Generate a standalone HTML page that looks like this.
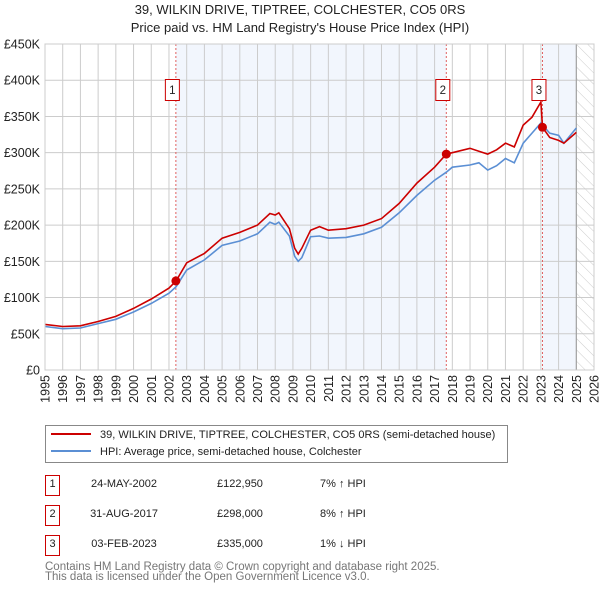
<!DOCTYPE html>
<html><head><meta charset="utf-8"><style>
body{margin:0;background:#fff;font-family:"Liberation Sans","DejaVu Sans",sans-serif;}
svg{display:block}
</style></head><body>
<svg width="600" height="590" viewBox="0 0 600 590" xmlns="http://www.w3.org/2000/svg">
<defs><pattern id="hatch" width="8" height="8" patternUnits="userSpaceOnUse" patternTransform="rotate(-45)"><line x1="0" y1="0" x2="0" y2="8" stroke="#ccc" stroke-width="1"/></pattern></defs>
<text x="300" y="14" text-anchor="middle" font-size="13" fill="#222">39, WILKIN DRIVE, TIPTREE, COLCHESTER, CO5 0RS</text>
<text x="300" y="32" text-anchor="middle" font-size="13" fill="#222">Price paid vs. HM Land Registry's House Price Index (HPI)</text>
<g id="plot"></g>
<g id="legend">
<rect x="45.5" y="425.5" width="462" height="37" fill="#fff" stroke="#888"/>
<line x1="51" y1="434" x2="91" y2="434" stroke="#cc0000" stroke-width="2"/>
<text x="100" y="438" font-size="11" fill="#222">39, WILKIN DRIVE, TIPTREE, COLCHESTER, CO5 0RS (semi-detached house)</text>
<line x1="51" y1="451" x2="91" y2="451" stroke="#5b8fd4" stroke-width="2"/>
<text x="100" y="455" font-size="11" fill="#222">HPI: Average price, semi-detached house, Colchester</text>
</g>
<g font-size="11" fill="#222">
<rect x="45.5" y="475.5" width="14" height="20" fill="#fff" stroke="#cc0000"/><text x="52.5" y="487" text-anchor="middle">1</text>
<text x="124" y="487" text-anchor="middle">24-MAY-2002</text><text x="240" y="487" text-anchor="middle">£122,950</text><text x="320" y="487">7% ↑ HPI</text>
<rect x="45.5" y="505.5" width="14" height="20" fill="#fff" stroke="#cc0000"/><text x="52.5" y="517" text-anchor="middle">2</text>
<text x="124" y="517" text-anchor="middle">31-AUG-2017</text><text x="240" y="517" text-anchor="middle">£298,000</text><text x="320" y="517">8% ↑ HPI</text>
<rect x="45.5" y="535.5" width="14" height="20" fill="#fff" stroke="#cc0000"/><text x="52.5" y="547" text-anchor="middle">3</text>
<text x="124" y="547" text-anchor="middle">03-FEB-2023</text><text x="240" y="547" text-anchor="middle">£335,000</text><text x="320" y="547">1% ↓ HPI</text>
</g>
<text x="45" y="570" font-size="11.5" fill="#777">Contains HM Land Registry data © Crown copyright and database right 2025.</text>
<text x="45" y="580" font-size="11.5" fill="#777">This data is licensed under the Open Government Licence v3.0.</text>
</svg>
<script>
const years=[1995,1996,1997,1998,1999,2000,2001,2002,2002.4,2003,2004,2005,2006,2007,2007.7,2008,2008.2,2008.8,2009.1,2009.3,2009.5,2010,2010.5,2011,2012,2013,2014,2015,2016,2017,2017.66,2018,2019,2019.5,2020,2020.5,2021,2021.5,2022,2022.5,2023,2023.09,2023.5,2024,2024.3,2025];
const hpiValues=[60,57,58,64,70,80,92,106,115,138,152,172,178,188,204,201,204,185,157,150,155,184,185,182,183,188,197,217,241,262,273,280,283,286,276,282,292,286,313,327,341,338,327,324,313,334];
const priceValues=[63,60,61,67,74,85,98,113,123,148,161,182,190,200,216,214,217,195,168,160,168,193,198,193,195,200,209,230,258,280,298,300,306,302,298,304,313,308,338,349,370,335,321,317,313,328];
const saleYears=[2002.39,2017.66,2023.09];
const saleValues=[122.95,298,335];
const saleLabels=["1","2","3"];
const yTicks=[0,50,100,150,200,250,300,350,400,450];
const yTickLabels=["£0","£50K","£100K","£150K","£200K","£250K","£300K","£350K","£400K","£450K"];
const xTicks=[1995,1996,1997,1998,1999,2000,2001,2002,2003,2004,2005,2006,2007,2008,2009,2010,2011,2012,2013,2014,2015,2016,2017,2018,2019,2020,2021,2022,2023,2024,2025,2026];
const dataEnd=2025.0;

const X0=45,X1=594,Y0=370,Y1=44;
const xs=y=>X0+(y-1995)/(2026-1995)*(X1-X0);
const ys=v=>Y0-v/450*(Y0-Y1);
const NS="http://www.w3.org/2000/svg";
const plot=document.getElementById('plot');
function mk(tag,attrs,parent){const e=document.createElementNS(NS,tag);for(const k in attrs)e.setAttribute(k,attrs[k]);(parent||plot).appendChild(e);return e;}
let r=mk('rect',{x:xs(saleYears[0]),y:Y1,width:xs(saleYears[1])-xs(saleYears[0]),height:Y0-Y1,fill:'#eef3fc',opacity:0.75});


r=mk('rect',{x:xs(saleYears[2]),y:Y1,width:xs(dataEnd)-xs(saleYears[2]),height:Y0-Y1,fill:'#eef3fc',opacity:0.75});


r=mk('rect',{x:xs(dataEnd),y:Y1,width:X1-xs(dataEnd),height:Y0-Y1,fill:'url(#hatch)'});


xTicks.forEach((t,i)=>{
 const l=mk('line',{x1:xs(t),x2:xs(t),y1:Y1,y2:Y0,stroke:'#ccc','stroke-width':1});
 
 
 const tx=mk('text',{x:0,y:0,transform:`translate(${xs(t)+4.5},375) rotate(-90)`,'text-anchor':'end','font-size':'12.5',fill:'#222'});
 tx.textContent=t;
 
 
});
yTicks.forEach((t,i)=>{
 const l=mk('line',{x1:X0,x2:X1,y1:ys(t),y2:ys(t),stroke:'#ccc','stroke-width':1});
 
 
 const tx=mk('text',{x:40,y:ys(t)+4.5,'text-anchor':'end','font-size':'12.5',fill:'#222'});
 tx.textContent=yTickLabels[i];
 
 
});
const el=mk('line',{x1:xs(dataEnd),x2:xs(dataEnd),y1:Y1,y2:Y0,stroke:'#999','stroke-width':1});


saleYears.forEach((s,i)=>{
 const l=mk('line',{x1:xs(s),x2:xs(s),y1:Y1,y2:Y0,stroke:'#e06060','stroke-width':1,'stroke-dasharray':'2,2'});
 
 
});
const pts=v=>years.map((y,i)=>xs(y).toFixed(1)+','+ys(v[i]).toFixed(1)).join(' ');
const hl=mk('polyline',{points:pts(hpiValues),fill:'none',stroke:'#5b8fd4','stroke-width':1.6});


const pl=mk('polyline',{points:pts(priceValues),fill:'none',stroke:'#cc0000','stroke-width':1.6});


saleYears.forEach((s,i)=>{
 const c=mk('circle',{cx:xs(s),cy:ys(saleValues[i]),r:4.5,fill:'#cc0000'});
 
 
 const b=mk('rect',{x:xs(s)-10.5,y:79.5,width:14,height:21,fill:'#fff',stroke:'#cc0000'});
 
 
 const t=mk('text',{x:xs(s)-3.5,y:94,'text-anchor':'middle','font-size':'11.5',fill:'#222'});
 t.textContent=saleLabels[i];
 
 
});
const bd=mk('rect',{x:X0,y:Y1,width:X1-X0,height:Y0-Y1,fill:'none',stroke:'#ccc'});


</script>
</body></html>
